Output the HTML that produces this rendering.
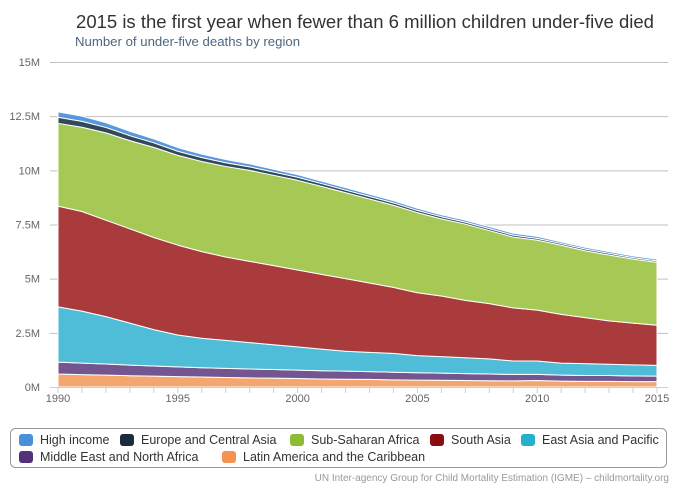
<!DOCTYPE html>
<html><head><meta charset="utf-8"><style>
body{margin:0;background:#fff;font-family:"Liberation Sans",sans-serif;}
svg{display:block}
</style></head><body>
<svg id="c" width="679" height="489">
<text x="365" y="28" text-anchor="middle" font-size="18.5" fill="#333">2015 is the first year when fewer than 6 million children under-five died</text>
<text x="75" y="46" font-size="13.2" fill="#4d6680">Number of under-five deaths by region</text>
<g id="grid"></g><g id="areas"></g><g id="axes"></g>
<rect x="10.5" y="428.5" width="656" height="39" rx="5" fill="#fff" stroke="#999"/>
<g id="legend"></g>
<text x="669" y="481" text-anchor="end" font-size="10" fill="#999">UN Inter-agency Group for Child Mortality Estimation (IGME) – childmortality.org</text>
</svg>
<script>
const years=[1990,1991,1992,1993,1994,1995,1996,1997,1998,1999,2000,2001,2002,2003,2004,2005,2006,2007,2008,2009,2010,2011,2012,2013,2014,2015];
const latam=[0.6,0.57,0.55,0.52,0.5,0.48,0.46,0.44,0.42,0.41,0.39,0.37,0.36,0.35,0.33,0.32,0.31,0.3,0.29,0.28,0.3,0.27,0.26,0.26,0.25,0.25];
const mena=[0.55,0.53,0.51,0.49,0.47,0.45,0.43,0.42,0.41,0.4,0.39,0.38,0.37,0.36,0.35,0.34,0.33,0.32,0.31,0.3,0.28,0.28,0.27,0.27,0.26,0.25];
const eap=[2.55,2.4,2.19,1.94,1.68,1.47,1.36,1.29,1.22,1.14,1.07,1.0,0.92,0.89,0.87,0.79,0.76,0.73,0.7,0.62,0.62,0.55,0.55,0.52,0.51,0.5];
const southAsia=[4.65,4.6,4.45,4.35,4.25,4.15,4.0,3.85,3.75,3.65,3.55,3.45,3.35,3.2,3.05,2.9,2.8,2.65,2.55,2.45,2.35,2.25,2.12,2.0,1.93,1.85];
const ssa=[3.82,3.89,4.03,4.07,4.16,4.14,4.16,4.18,4.2,4.17,4.14,4.06,3.97,3.88,3.79,3.7,3.56,3.52,3.37,3.27,3.23,3.19,3.09,3.04,2.95,2.9];
const europe=[0.28,0.27,0.25,0.23,0.21,0.19,0.18,0.17,0.16,0.15,0.14,0.13,0.12,0.12,0.11,0.1,0.1,0.09,0.09,0.09,0.08,0.08,0.08,0.08,0.07,0.07];
const highIncome=[0.25,0.24,0.22,0.2,0.18,0.17,0.16,0.15,0.14,0.13,0.12,0.11,0.11,0.1,0.1,0.1,0.09,0.09,0.09,0.09,0.09,0.08,0.08,0.08,0.08,0.08];
const yTicks=[0,2.5,5,7.5,10,12.5,15];
const yTickLabels=["0M","2.5M","5M","7.5M","10M","12.5M","15M"];
const xLabels=[1990,1995,2000,2005,2010,2015];
const seriesNames=["High income","Europe and Central Asia","Sub-Saharan Africa","South Asia","East Asia and Pacific","Middle East and North Africa","Latin America and the Caribbean"];
const NS="http://www.w3.org/2000/svg";
const X=y=>58+(y-1990)*(599/25);
const Y=v=>387-v*(325/15);
function mk(tag,attrs,parent){const e=document.createElementNS(NS,tag);for(const k in attrs)e.setAttribute(k,attrs[k]);parent.appendChild(e);return e;}
const grid=document.getElementById('grid'),axes=document.getElementById('axes'),areas=document.getElementById('areas'),leg=document.getElementById('legend');
yTicks.forEach((t,i)=>{
 if(t>0){const l=mk('line',{x1:50,x2:668,y1:Y(t)+0.5,y2:Y(t)+0.5,stroke:'#c0c0c0'},grid);
 
 }
 const tx=mk('text',{x:40,y:Y(t)+4,'text-anchor':'end','font-size':11,fill:'#666'},axes);tx.textContent=yTickLabels[i];
 
 
});
const stack=[
 {n:'latin-america',d:latam,c:'#f4a66e'},
 {n:'middle-east',d:mena,c:'#735690'},
 {n:'east-asia',d:eap,c:'#4fbdd8'},
 {n:'south-asia',d:southAsia,c:'#a93b3d'},
 {n:'sub-saharan',d:ssa,c:'#a6c956'},
 {n:'europe',d:europe,c:'#34485c'},
 {n:'high-income',d:highIncome,c:'#5898dd'}];
let base=years.map(()=>0);
stack.forEach(s=>{
 const top=base.map((b,i)=>b+s.d[i]);
 let p='M'+years.map((y,i)=>X(y)+','+Y(top[i])).join('L');
 p+='L'+years.map((y,i)=>[X(y),Y(base[i])]).reverse().map(a=>a.join(',')).join('L')+'Z';
 const a=mk('path',{d:p,fill:s.c,stroke:'#fff','stroke-width':1,'stroke-linejoin':'round'},areas);
 
 
 base=top;
});
mk('line',{x1:50,x2:668,y1:387.5,y2:387.5,stroke:'#c0d0e0'},axes);
years.forEach(y=>{mk('line',{x1:X(y),x2:X(y),y1:388,y2:393,stroke:'#c0d0e0'},axes);});
xLabels.forEach(y=>{const t=mk('text',{x:X(y),y:402,'text-anchor':'middle','font-size':11,fill:'#666'},axes);t.textContent=y;
 
 });
const legCols=['#4a8fdc','#1b2a3c','#8ebd33','#8a0d0f','#25b0d0','#53327a','#f4934f'];
const legPos=[[19,444],[120,444],[290,444],[430,444],[521,444],[19,461],[222,461]];
seriesNames.forEach((n,i)=>{
 const g=mk('g',{},leg);
 
 
 mk('rect',{x:legPos[i][0],y:legPos[i][1]-10,width:14,height:12,rx:3,fill:legCols[i]},g);
 const t=mk('text',{x:legPos[i][0]+21,y:legPos[i][1],'font-size':12.5,fill:'#333'},g);t.textContent=n;
});
</script>
</body></html>
